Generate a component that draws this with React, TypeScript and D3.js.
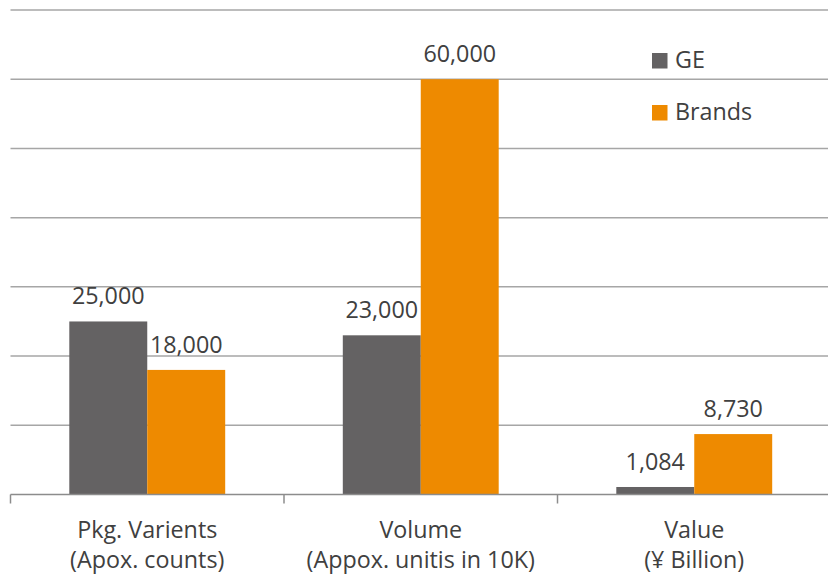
import React from "react";
import * as d3 from "d3";

const categories = ["Pkg. Varients|(Apox. counts)", "Volume|(Appox. unitis in 10K)", "Value|(¥ Billion)"];
const seriesNames = ["GE", "Brands"];
const geValues = [25000, 23000, 1084];
const brandValues = [18000, 60000, 8730];
const gridTicks = [0, 10000, 20000, 30000, 40000, 50000, 60000, 70000];

const W = 828;
const H = 577;
const colors = ["#646263", "#EE8A00"];
const textColor = "#404040";
const font = "'Open Sans', sans-serif";

export default function App() {
  const x = d3.scaleBand<string>().domain(categories).range([10.5, 831]).padding(0);
  const y = d3.scaleLinear().domain([0, 70000]).range([494.5, 10]);
  const bw = x.bandwidth();
  const sub = d3.scaleBand<string>().domain(seriesNames).range([bw * 0.215, bw * 0.785]).padding(0);
  const fmt = d3.format(",");
  const series = [geValues, brandValues];

  return (
    <svg width={W} height={H} style={{ position: "absolute", left: 0, top: 0, background: "#fff" }} fontFamily={font}>
      {gridTicks.slice(1).map((t) => (
        <line key={t} x1={10.5} x2={W} y1={y(t)} y2={y(t)} stroke="#a6a6a6" strokeWidth={1.5} />
      ))}
      {categories.map((c, ci) =>
        series.map((vals, si) => {
          const v = vals[ci];
          const bx = (x(c) as number) + (sub(seriesNames[si]) as number);
          return (
            <g key={c + si}>
              <rect x={bx} y={y(v)} width={sub.bandwidth()} height={y(0) - y(v)} fill={colors[si]} />
              <text x={bx + sub.bandwidth() / 2} y={y(v) - 17} textAnchor="middle" fontSize={23.3} fill={textColor}>
                {fmt(v)}
              </text>
            </g>
          );
        })
      )}
      <line x1={10.5} x2={W} y1={y(0)} y2={y(0)} stroke="#8c8c8c" strokeWidth={1.5} />
      {[...categories.map((c) => x(c) as number), 831].map((t, i) => (
        <line key={i} x1={t} x2={t} y1={y(0)} y2={y(0) + 9} stroke="#8c8c8c" strokeWidth={1.5} />
      ))}
      {categories.map((c) => {
        const [l1, l2] = c.split("|");
        const cx = (x(c) as number) + bw / 2;
        return (
          <text key={c} x={cx} textAnchor="middle" fontSize={23.3} fill={textColor}>
            <tspan x={cx} y={538}>{l1}</tspan>
            <tspan x={cx} y={568}>{l2}</tspan>
          </text>
        );
      })}
      {seriesNames.map((s, i) => (
        <g key={s}>
          <rect x={652} y={53 + i * 52} width={15.5} height={15.5} fill={colors[i]} />
          <text x={675} y={68 + i * 52} fontSize={23.3} fill={textColor}>
            {s}
          </text>
        </g>
      ))}
    </svg>
  );
}
